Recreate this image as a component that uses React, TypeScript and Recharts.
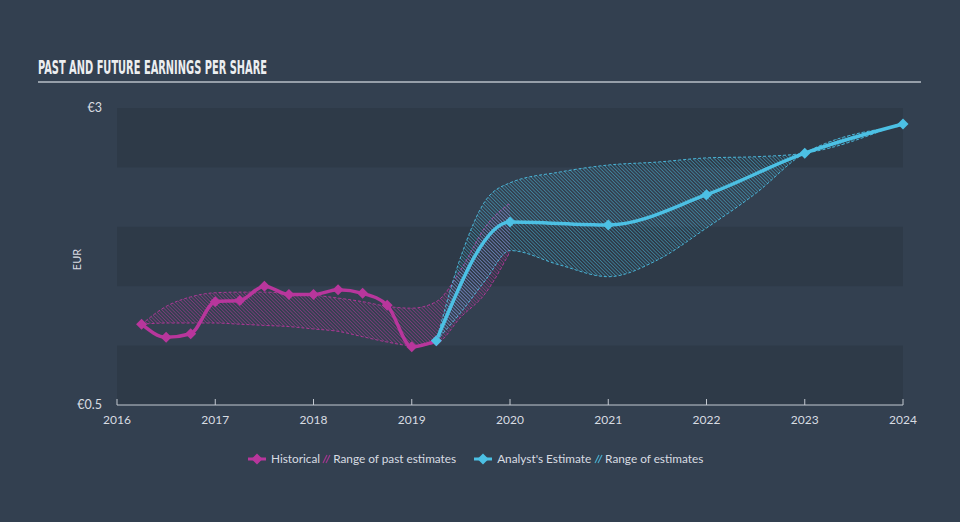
import React from 'react';
import { ComposedChart, Line, Area, XAxis, YAxis, ReferenceArea } from 'recharts';

// historical EPS (quarterly)
const histYears = [2016.25, 2016.5, 2016.75, 2017, 2017.25, 2017.5, 2017.75, 2018, 2018.25, 2018.5, 2018.75, 2019, 2019.25];
const histEps = [1.18, 1.07, 1.1, 1.37, 1.38, 1.5, 1.43, 1.43, 1.47, 1.44, 1.34, 0.99, 1.04];

// range of past estimates
const pastYears = [2016.25, 2016.5, 2016.75, 2017, 2017.25, 2017.5, 2017.75, 2018, 2018.25, 2018.5, 2018.75, 2019, 2019.25, 2019.5, 2019.75, 2020];
const pastLow = [1.18, 1.19, 1.19, 1.19, 1.18, 1.17, 1.16, 1.14, 1.12, 1.075, 1.03, 1.0, 1.02, 1.24, 1.44, 1.79];
const pastHigh = [1.18, 1.33, 1.41, 1.445, 1.45, 1.45, 1.44, 1.425, 1.4, 1.37, 1.33, 1.315, 1.37, 1.64, 2.0, 2.2];

// analyst estimate
const estYears = [2019.25, 2020, 2021, 2022, 2023, 2024];
const estEps = [1.04, 2.04, 2.015, 2.27, 2.62, 2.865];

// range of estimates
const rangeYears = [2019.25, 2019.5, 2019.75, 2020, 2020.5, 2021, 2021.5, 2022, 2022.5, 2023, 2024];
const rangeLow = [1.04, 1.28, 1.55, 1.8, 1.68, 1.58, 1.72, 1.99, 2.28, 2.62, 2.85];
const rangeHigh = [1.04, 1.75, 2.22, 2.37, 2.46, 2.52, 2.545, 2.58, 2.59, 2.62, 2.88];

const xTicks = [2016, 2017, 2018, 2019, 2020, 2021, 2022, 2023, 2024];
const yTicks = [0.5, 3];
const darkBands = [[0.5, 1], [1.5, 2], [2.5, 3]];

const MAGENTA = '#b8369c';
const BLUE = '#4cc0e4';
const BG = '#334050';
const BAND = '#2e3a48';
const TEXT = '#d8dce2';
const FONT = 'Lato, "Open Sans", sans-serif';

type Row = { year: number; hist?: number; est?: number; past?: [number, number]; range?: [number, number] };

const buildRows = (): Row[] => {
  const map = new Map<number, Row>();
  const get = (y: number) => {
    if (!map.has(y)) map.set(y, { year: y });
    return map.get(y)!;
  };
  histYears.forEach((y, i) => { get(y).hist = histEps[i]; });
  pastYears.forEach((y, i) => { get(y).past = [pastLow[i], pastHigh[i]]; });
  estYears.forEach((y, i) => { get(y).est = estEps[i]; });
  rangeYears.forEach((y, i) => { get(y).range = [rangeLow[i], rangeHigh[i]]; });
  return [...map.values()].sort((a, b) => a.year - b.year);
};

const data = buildRows();

const diamond = (color: string, key: string) => (props: any) => {
  const { cx, cy, index, payload } = props;
  if (cx == null || cy == null || payload == null || payload[key] == null) return <g key={`${key}-${index}`} />;
  const r = 5.5;
  return (
    <polygon
      key={`${key}-${index}`}
      points={`${cx},${cy - r} ${cx + r},${cy} ${cx},${cy + r} ${cx - r},${cy}`}
      fill={color}
    />
  );
};

const XTick = (props: any) => {
  const { x, y, payload } = props;
  return (
    <g>
      <line x1={x} x2={x} y1={y - 8} y2={y - 14} stroke="#c3c9d1" strokeWidth={1} />
      <text x={x} y={y + 11} textAnchor="middle" fill={TEXT} fontSize={12} fontFamily={FONT}>
        {payload.value}
      </text>
    </g>
  );
};

const LegendMarker = ({ color }: { color: string }) => (
  <svg width={18} height={12} style={{ display: 'block' }}>
    <line x1={0} x2={18} y1={6} y2={6} stroke={color} strokeWidth={3} />
    <polygon points="9,0.5 14.5,6 9,11.5 3.5,6" fill={color} />
  </svg>
);

const HatchIcon = ({ color }: { color: string }) => (
  <svg width={9} height={10} style={{ display: 'block' }}>
    <line x1={1} y1={9} x2={5} y2={1} stroke={color} strokeWidth={1.3} opacity={0.8} />
    <line x1={4} y1={9} x2={8} y2={1} stroke={color} strokeWidth={1.3} opacity={0.8} />
  </svg>
);

const ChartLegend = () => (
  <div
    style={{
      position: 'absolute',
      left: 248,
      top: 451,
      display: 'flex',
      alignItems: 'center',
      fontFamily: FONT,
      fontSize: 11.8,
      color: TEXT,
      whiteSpace: 'nowrap',
    }}
  >
    <LegendMarker color={MAGENTA} />
    <span style={{ marginLeft: 5 }}>Historical</span>
    <span style={{ marginLeft: 2 }}><HatchIcon color={MAGENTA} /></span>
    <span style={{ marginLeft: 2 }}>Range of past estimates</span>
    <span style={{ marginLeft: 18 }}><LegendMarker color={BLUE} /></span>
    <span style={{ marginLeft: 5 }}>Analyst's Estimate</span>
    <span style={{ marginLeft: 3 }}><HatchIcon color={BLUE} /></span>
    <span style={{ marginLeft: 2 }}>Range of estimates</span>
  </div>
);

const EurLabel = (props: any) => {
  const vb = props.viewBox || {};
  const x = vb.x + vb.width - 36;
  const y = vb.y + vb.height / 2 + 3;
  return (
    <text x={x} y={y} transform={`rotate(-90 ${x} ${y})`} textAnchor="middle" fill={TEXT} fontSize={11} fontFamily={FONT}>
      EUR
    </text>
  );
};

export default function App() {
  return (
    <div style={{ position: 'absolute', left: 0, top: 0, width: 960, height: 522, background: BG, overflow: 'hidden' }}>
      <svg width={960} height={100} style={{ position: 'absolute', left: 0, top: 0 }}>
        <text
          x={38}
          y={74}
          fill="#eceef0"
          fontSize={20}
          fontWeight="bold"
          fontFamily='"DejaVu Sans Condensed", "Liberation Sans Narrow", sans-serif'
          textLength={229}
          lengthAdjust="spacingAndGlyphs"
        >
          PAST AND FUTURE EARNINGS PER SHARE
        </text>
        <line x1={38} x2={921} y1={82} y2={82} stroke="#b9bfc7" strokeWidth={1.5} />
      </svg>
      <div style={{ position: 'absolute', left: 0, top: 0 }}>
        <ComposedChart width={960} height={522} data={data} margin={{ top: 108, right: 57, bottom: 87, left: 0 }}>
          <defs>
            <pattern id="hatchPast" width="2.5" height="2.5" patternUnits="userSpaceOnUse" patternTransform="rotate(-45)">
              <line x1="0" y1="0" x2="0" y2="2.5" stroke={MAGENTA} strokeWidth="1.1" strokeOpacity="0.85" />
            </pattern>
            <pattern id="hatchFut" width="2.5" height="2.5" patternUnits="userSpaceOnUse" patternTransform="rotate(-45)">
              <line x1="0" y1="0" x2="0" y2="2.5" stroke={BLUE} strokeWidth="1.1" strokeOpacity="0.8" />
            </pattern>
          </defs>
          {darkBands.map(([a, b]) => (
            <ReferenceArea key={`band-${a}`} y1={a} y2={b} fill={BAND} fillOpacity={1} stroke="none" />
          ))}
          <XAxis
            dataKey="year"
            type="number"
            domain={[2016, 2024]}
            ticks={xTicks}
            height={30}
            stroke="#c3c9d1"
            tickLine={false}
            tick={<XTick />}
            interval={0}
          />
          <YAxis
            type="number"
            domain={[0.5, 3]}
            ticks={yTicks}
            width={117}
            axisLine={false}
            tickLine={false}
            tickMargin={9}
            tick={{ fill: TEXT, fontSize: 12.5, fontFamily: FONT }}
            tickFormatter={(v: number) => `€${v}`}
            label={{ content: <EurLabel /> }}
          />
          <Area
            dataKey="past"
            type="monotone"
            fill="url(#hatchPast)"
            fillOpacity={1}
            stroke={MAGENTA}
            strokeWidth={1}
            strokeDasharray="3 2"
            strokeOpacity={0.9}
            connectNulls
            isAnimationActive={false}
            dot={false}
            activeDot={false}
          />
          <Area
            dataKey="range"
            type="monotone"
            fill="url(#hatchFut)"
            fillOpacity={1}
            stroke={BLUE}
            strokeWidth={1}
            strokeDasharray="3 2"
            strokeOpacity={0.9}
            connectNulls
            isAnimationActive={false}
            dot={false}
            activeDot={false}
          />
          <Line
            dataKey="hist"
            type="monotone"
            stroke={MAGENTA}
            strokeWidth={3.5}
            connectNulls
            isAnimationActive={false}
            dot={diamond(MAGENTA, 'hist')}
            activeDot={false}
          />
          <Line
            dataKey="est"
            type="monotone"
            stroke={BLUE}
            strokeWidth={3.5}
            connectNulls
            isAnimationActive={false}
            dot={diamond(BLUE, 'est')}
            activeDot={false}
          />
        </ComposedChart>
      </div>
      <ChartLegend />
    </div>
  );
}
